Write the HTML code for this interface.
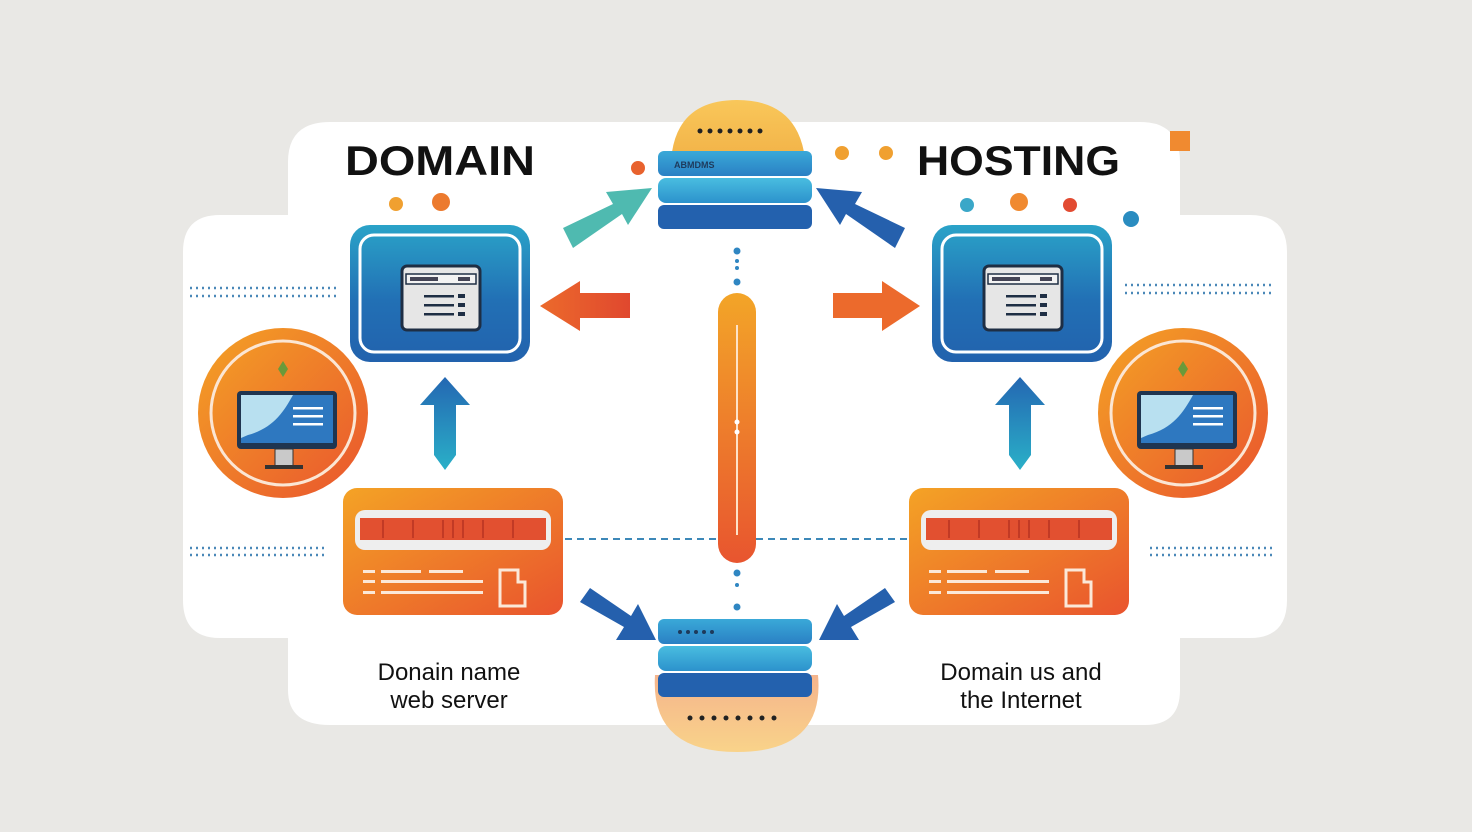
<!DOCTYPE html>
<html><head><meta charset="utf-8"><style>
html,body{margin:0;padding:0;background:#e9e8e5;}
svg{display:block}
text{font-family:"Liberation Sans","DejaVu Sans",sans-serif}
</style></head><body>
<svg width="1472" height="832" viewBox="0 0 1472 832" xmlns="http://www.w3.org/2000/svg">
<defs>
<linearGradient id="gBlue" x1="0" y1="0" x2="0" y2="1"><stop offset="0" stop-color="#2aa3c8"/><stop offset="0.55" stop-color="#2270b5"/><stop offset="1" stop-color="#2262ad"/></linearGradient>
<linearGradient id="gOr" x1="0" y1="0" x2="1" y2="1"><stop offset="0" stop-color="#f4a325"/><stop offset="1" stop-color="#e9542e"/></linearGradient>
<linearGradient id="gOrV" x1="0" y1="0" x2="0" y2="1"><stop offset="0" stop-color="#f3a528"/><stop offset="1" stop-color="#e8552f"/></linearGradient>
<linearGradient id="gArrO" x1="0" y1="0" x2="1" y2="0"><stop offset="0" stop-color="#ec6a2c"/><stop offset="1" stop-color="#e0482e"/></linearGradient>
<linearGradient id="gArrB" x1="0" y1="0" x2="0" y2="1"><stop offset="0" stop-color="#2467b2"/><stop offset="1" stop-color="#2ab0c8"/></linearGradient>
<linearGradient id="gSrv1" x1="0" y1="0" x2="0" y2="1"><stop offset="0" stop-color="#3aa9d8"/><stop offset="1" stop-color="#2a80c4"/></linearGradient>
<linearGradient id="gSrv2" x1="0" y1="0" x2="0" y2="1"><stop offset="0" stop-color="#49bde0"/><stop offset="1" stop-color="#2c92cc"/></linearGradient>
<linearGradient id="gDome" x1="0" y1="0" x2="0" y2="1"><stop offset="0" stop-color="#f9c75a"/><stop offset="1" stop-color="#f3b54a"/></linearGradient>
<linearGradient id="gFace" x1="0" y1="0" x2="0" y2="1"><stop offset="0" stop-color="#f5b48c"/><stop offset="1" stop-color="#f9d38a"/></linearGradient>

<g id="box">
 <rect x="0" y="0" width="180" height="137" rx="20" fill="url(#gBlue)"/>
 <rect x="10" y="10" width="160" height="117" rx="14" fill="none" stroke="#fff" stroke-width="3"/>
 <rect x="52" y="41" width="78" height="64" rx="5" fill="#e6e6e6" stroke="#1e2e44" stroke-width="3"/>
 <rect x="56" y="49" width="70" height="10" fill="#f3f3f3" stroke="#1e2e44" stroke-width="1.5"/>
 <rect x="60" y="52" width="28" height="4" fill="#445"/>
 <rect x="108" y="52" width="12" height="4" fill="#445"/>
 <rect x="74" y="70" width="30" height="2.5" fill="#1e2e44"/><rect x="108" y="69" width="7" height="4" fill="#1e2e44"/>
 <rect x="74" y="79" width="30" height="2.5" fill="#1e2e44"/><rect x="108" y="78" width="7" height="4" fill="#1e2e44"/>
 <rect x="74" y="88" width="30" height="2.5" fill="#1e2e44"/><rect x="108" y="87" width="7" height="4" fill="#1e2e44"/>
</g>
<g id="circ">
 <circle cx="0" cy="0" r="85" fill="url(#gOr)"/>
 <circle cx="0" cy="0" r="72" fill="none" stroke="#fbe6d4" stroke-width="3"/>
 <path d="M0,-52 l5,8 l-5,8 l-5,-8z" fill="#6a9a3a"/>
 <rect x="-46" y="-22" width="100" height="58" rx="4" fill="#1f3550"/>
 <rect x="-42" y="-18" width="92" height="48" fill="#2e78c0"/>
 <path d="M-42,-18 L10,-18 C0,0 -10,15 -35,22 L-42,25Z" fill="#b8e0f0"/>
 <rect x="10" y="-6" width="30" height="2.5" fill="#fff"/><rect x="10" y="2" width="30" height="2.5" fill="#fff"/><rect x="10" y="10" width="30" height="2.5" fill="#fff"/>
 <rect x="-8" y="36" width="18" height="18" fill="#c9c9c9" stroke="#333" stroke-width="1"/>
 <rect x="-18" y="52" width="38" height="4" fill="#333"/>
</g>
<g id="card">
 <rect x="0" y="0" width="220" height="127" rx="14" fill="url(#gOr)"/>
 <rect x="12" y="22" width="196" height="40" rx="10" fill="#eeeeee"/>
 <rect x="17" y="30" width="186" height="22" fill="#e25030"/>
 <g stroke="#c23a25" stroke-width="2"><line x1="40" y1="32" x2="40" y2="50"/><line x1="70" y1="32" x2="70" y2="50"/><line x1="100" y1="32" x2="100" y2="50"/><line x1="110" y1="32" x2="110" y2="50"/><line x1="120" y1="32" x2="120" y2="50"/><line x1="140" y1="32" x2="140" y2="50"/><line x1="170" y1="32" x2="170" y2="50"/></g>
 <g fill="#fbe8d8"><rect x="20" y="82" width="12" height="3"/><rect x="38" y="82" width="40" height="3"/><rect x="86" y="82" width="34" height="3"/><rect x="20" y="92" width="12" height="3"/><rect x="38" y="92" width="102" height="3"/><rect x="20" y="103" width="12" height="3"/><rect x="38" y="103" width="102" height="3"/></g>
 <path d="M157,82 H175 V94 H182 V118 H157Z" fill="none" stroke="#fbe8d8" stroke-width="3"/>
</g>
<g id="srv">
 <rect x="0" y="0" width="154" height="25" rx="6" fill="url(#gSrv1)"/>
 <rect x="0" y="27" width="154" height="25" rx="8" fill="url(#gSrv2)"/>
 <rect x="0" y="54" width="154" height="24" rx="6" fill="#2361ae"/>
</g>
</defs>

<path d="M330,122 H1140 Q1180,122 1180,162 V215 H1250 Q1287,215 1287,252 V600 Q1287,638 1250,638 H1180 V690 Q1180,725 1145,725 H330 Q288,725 288,690 V638 H220 Q183,638 183,600 V252 Q183,215 220,215 H288 V162 Q288,122 330,122Z" fill="#ffffff"/>

<text x="345" y="175" font-size="42" font-weight="bold" fill="#111" textLength="190" lengthAdjust="spacingAndGlyphs">DOMAIN</text>
<text x="917" y="175" font-size="42" font-weight="bold" fill="#111" textLength="203" lengthAdjust="spacingAndGlyphs">HOSTING</text>

<circle cx="396" cy="204" r="7" fill="#f0a030"/><circle cx="441" cy="202" r="9" fill="#ec7a2e"/>
<circle cx="638" cy="168" r="7" fill="#e8622e"/>
<circle cx="842" cy="153" r="7" fill="#f0a030"/><circle cx="886" cy="153" r="7" fill="#f0a030"/>
<circle cx="967" cy="205" r="7" fill="#3aa7c8"/><circle cx="1019" cy="202" r="9" fill="#f08a30"/><circle cx="1070" cy="205" r="7" fill="#e24b32"/><circle cx="1131" cy="219" r="8" fill="#2a8cc0"/>
<rect x="1170" y="131" width="20" height="20" fill="#f08a30"/>

<g stroke="#4a88b8" stroke-width="2.5" stroke-dasharray="2 4">
<line x1="190" y1="288" x2="338" y2="288"/><line x1="190" y1="296" x2="338" y2="296"/>
<line x1="190" y1="548" x2="325" y2="548"/><line x1="190" y1="555" x2="325" y2="555"/>
<line x1="1125" y1="285" x2="1275" y2="285"/><line x1="1125" y1="293" x2="1275" y2="293"/>
<line x1="1150" y1="548" x2="1272" y2="548"/><line x1="1150" y1="555" x2="1272" y2="555"/>
</g>
<g stroke="#3d88b8" stroke-width="2" stroke-dasharray="7 5">
<line x1="565" y1="539" x2="718" y2="539"/><line x1="756" y1="539" x2="908" y2="539"/>
</g>
<g fill="#2f86c2"><circle cx="737" cy="251" r="3.5"/><circle cx="737" cy="261" r="2"/><circle cx="737" cy="268" r="2"/><circle cx="737" cy="282" r="3.5"/>
<circle cx="737" cy="573" r="3.5"/><circle cx="737" cy="585" r="2"/><circle cx="737" cy="607" r="3.5"/></g>

<rect x="718" y="293" width="38" height="270" rx="19" fill="url(#gOrV)"/>
<line x1="737" y1="325" x2="737" y2="535" stroke="#fde2c8" stroke-width="2"/>
<circle cx="737" cy="422" r="2.5" fill="#fff"/><circle cx="737" cy="432" r="2.5" fill="#fff"/>

<path d="M672,152 Q680,100 737,100 Q794,100 804,152Z" fill="url(#gDome)"/>
<g fill="#222"><circle cx="700" cy="131" r="2.5"/><circle cx="710" cy="131" r="2.5"/><circle cx="720" cy="131" r="2.5"/><circle cx="730" cy="131" r="2.5"/><circle cx="740" cy="131" r="2.5"/><circle cx="750" cy="131" r="2.5"/><circle cx="760" cy="131" r="2.5"/></g>
<use href="#srv" x="658" y="151"/>
<text x="674" y="168" font-size="9" font-weight="bold" fill="#1e3a5c">ABMDMS</text>

<path d="M655,675 Q650,752 737,752 Q825,752 818,675Z" fill="url(#gFace)"/>
<g fill="#222"><circle cx="690" cy="718" r="2.5"/><circle cx="702" cy="718" r="2.5"/><circle cx="714" cy="718" r="2.5"/><circle cx="726" cy="718" r="2.5"/><circle cx="738" cy="718" r="2.5"/><circle cx="750" cy="718" r="2.5"/><circle cx="762" cy="718" r="2.5"/><circle cx="774" cy="718" r="2.5"/></g>
<use href="#srv" x="658" y="619"/>
<g fill="#1e3a5c"><circle cx="680" cy="632" r="2"/><circle cx="688" cy="632" r="2"/><circle cx="696" cy="632" r="2"/><circle cx="704" cy="632" r="2"/><circle cx="712" cy="632" r="2"/></g>

<path d="M630,293 H580 V281 L540,306 L580,331 V318 H630Z" fill="url(#gArrO)"/>
<path d="M833,293 H882 V281 L920,306 L882,331 V318 H833Z" fill="#ec6a2c"/>
<path d="M563,228 L613,204 L606,192 L652,188 L628,225 L622,214 L573,248Z" fill="#4fbab0"/>
<path d="M905,228 L855,204 L862,192 L816,188 L840,225 L846,214 L895,248Z" fill="#2560ad"/>
<path d="M580,602 L624,627 L616,640 L656,640 L638,604 L631,616 L590,588Z" fill="#2560ad"/>
<path d="M895,602 L851,627 L859,640 L819,640 L837,604 L844,616 L885,588Z" fill="#2560ad"/>
<path d="M445,377 L470,405 H456 V455 L445,470 L434,455 V405 H420Z" fill="url(#gArrB)"/>
<path d="M1020,377 L1045,405 H1031 V455 L1020,470 L1009,455 V405 H995Z" fill="url(#gArrB)"/>

<use href="#box" x="350" y="225"/>
<use href="#box" x="932" y="225"/>
<use href="#circ" x="283" y="413"/>
<use href="#circ" x="1183" y="413"/>
<use href="#card" x="343" y="488"/>
<use href="#card" x="909" y="488"/>

<text x="449" y="680" font-size="24" text-anchor="middle" fill="#111">Donain name</text>
<text x="449" y="708" font-size="24" text-anchor="middle" fill="#111">web server</text>
<text x="1021" y="680" font-size="24" text-anchor="middle" fill="#111">Domain us and</text>
<text x="1021" y="708" font-size="24" text-anchor="middle" fill="#111">the Internet</text>
</svg>
</body></html>
